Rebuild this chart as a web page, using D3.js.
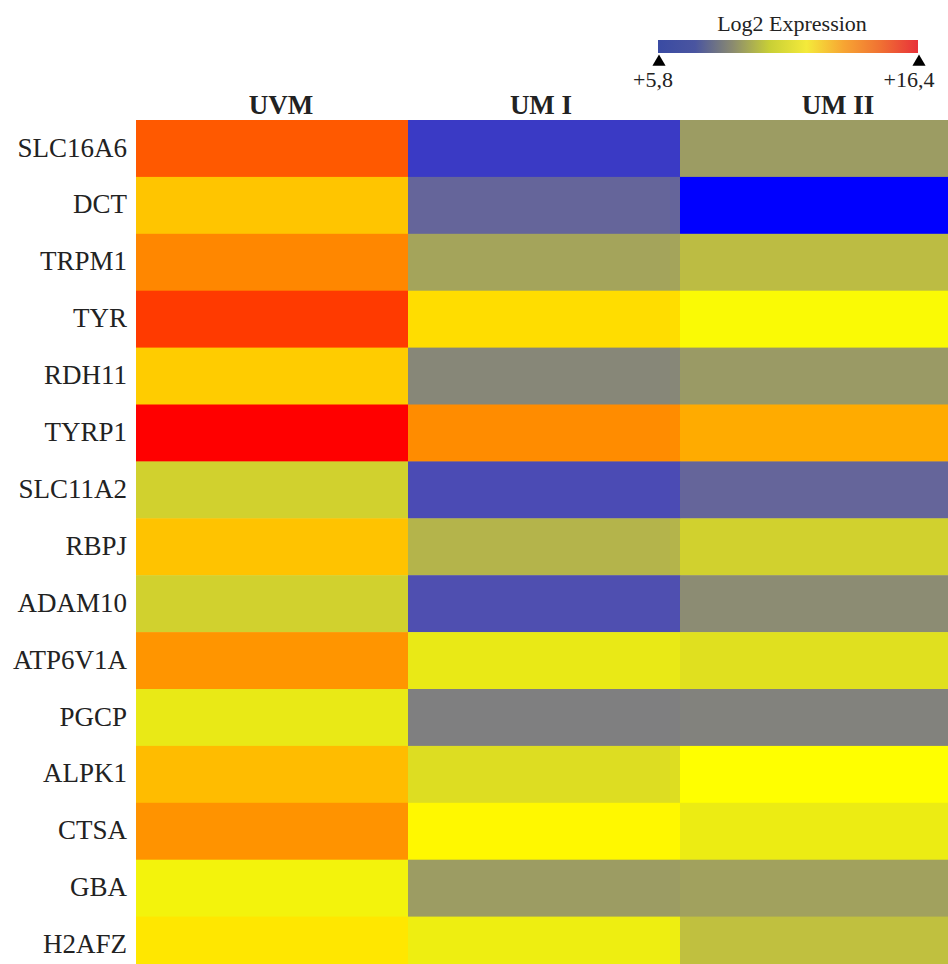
<!DOCTYPE html>
<html>
<head>
<meta charset="utf-8">
<script src="https://cdn.jsdelivr.net/npm/d3@7"></script>
<style>
  body { margin: 0; background: #fff; }
  text { font-family: "Liberation Serif", "DejaVu Serif", serif; fill: #222; }
</style>
</head>
<body>
<div id="container"></div>
<script>
const genes = ["SLC16A6", "DCT", "TRPM1", "TYR", "RDH11", "TYRP1", "SLC11A2", "RBPJ",
    "ADAM10", "ATP6V1A", "PGCP", "ALPK1", "CTSA", "GBA", "H2AFZ"]
const groups = ["UVM", "UM I", "UM II"]

// log2 expression per gene
const uvm = [14.55, 12.3, 13.6, 15.2, 12.15, 16.4, 10.15, 12.35, 10.15, 13.3, 10.65, 12.5, 13.35, 10.85, 11.6]
const um1 = [7.0, 7.9, 9.2, 11.8, 8.6, 13.5, 7.35, 9.55, 7.45, 10.65, 8.45, 10.4, 11.25, 9.05, 10.75]
const um2 = [9.05, 5.8, 9.7, 11.0, 9.0, 12.85, 7.9, 10.15, 8.7, 10.45, 8.5, 11.1, 10.7, 9.15, 9.8]

const legendMin = 5.8
const legendMax = 16.4
const legendLabels = ["+5,8", "+16,4"]

const width = 948
const height = 964
const margin = { top: 120, left: 136 }
const rowH = 56.9
const colW = 272
const headerNudge = [9, -3, 22]

const svg = d3.select('#container')
    .append('svg').attr('width', width).attr('height', height)

const x = d3.scaleBand().domain(groups).range([margin.left, margin.left + colW * groups.length])
const y = d3.scaleBand().domain(genes).range([margin.top, margin.top + rowH * genes.length])

const mid = (legendMin + legendMax) / 2
const color = d3.scaleLinear()
    .domain([legendMin, mid, legendMax])
    .range(["#0000ff", "#ffff00", "#ff0000"])

const cells = []
const cols = [uvm, um1, um2]
groups.forEach((g, j) => {
    genes.forEach((gene, i) => cells.push({ group: g, gene: gene, value: cols[j][i] }))
})

svg.selectAll('.cell')
    .data(cells)
    .enter()
    .append('rect')
    .attr('class', 'cell')
    .attr('x', d => x(d.group))
    .attr('y', d => y(d.gene))
    .attr('width', x.bandwidth() + 0.5)
    .attr('height', y.bandwidth() + 0.5)
    .attr('fill', d => color(d.value))

// row labels
svg.selectAll('.rowlab')
    .data(genes)
    .enter()
    .append('text')
    .attr('class', 'rowlab')
    .attr('x', margin.left - 9)
    .attr('y', d => y(d) + y.bandwidth() / 2)
    .attr('dy', '0.3em')
    .attr('text-anchor', 'end')
    .style('font-size', '27px')
    .text(d => d)

// column headers
svg.selectAll('.collab')
    .data(groups)
    .enter()
    .append('text')
    .attr('class', 'collab')
    .attr('x', (d, i) => x(d) + x.bandwidth() / 2 + headerNudge[i])
    .attr('y', margin.top - 6)
    .attr('text-anchor', 'middle')
    .style('font-size', '27px')
    .style('font-weight', 'bold')
    .text(d => d)

// legend
const lg = svg.append('g')
const lx = d3.scaleLinear().domain([legendMin, legendMax]).range([658, 918])

const defs = svg.append('defs')
const grad = defs.append('linearGradient').attr('id', 'lgrad')
const stops = ["#3a4ba3", "#4a55a0", "#8a8a70", "#c8cf36", "#f4ea3a", "#f7a533", "#f07033", "#e8313a"]
stops.forEach((c, i) => {
    grad.append('stop').attr('offset', (i / (stops.length - 1) * 100) + '%').attr('stop-color', c)
})

lg.append('rect')
    .attr('x', lx(legendMin))
    .attr('y', 40)
    .attr('width', lx(legendMax) - lx(legendMin))
    .attr('height', 13)
    .attr('fill', 'url(#lgrad)')

lg.append('text')
    .attr('x', (lx(legendMin) + lx(legendMax)) / 2 + 4)
    .attr('y', 31)
    .attr('text-anchor', 'middle')
    .style('font-size', '22px')
    .text("Log2 Expression")

const tri = d3.symbol().type(d3.symbolTriangle).size(75)
lg.selectAll('.tri')
    .data([legendMin, legendMax])
    .enter()
    .append('path')
    .attr('class', 'tri')
    .attr('transform', d => `translate(${lx(d) + 1},${62})`)
    .attr('d', tri)
    .attr('fill', '#000')

lg.selectAll('.ltick')
    .data([legendMin, legendMax])
    .enter()
    .append('text')
    .attr('class', 'ltick')
    .attr('x', (d, i) => lx(d) - (i ? 9 : 5))
    .attr('y', 87)
    .attr('text-anchor', 'middle')
    .style('font-size', '22px')
    .text((d, i) => legendLabels[i])
</script>
</body>
</html>
